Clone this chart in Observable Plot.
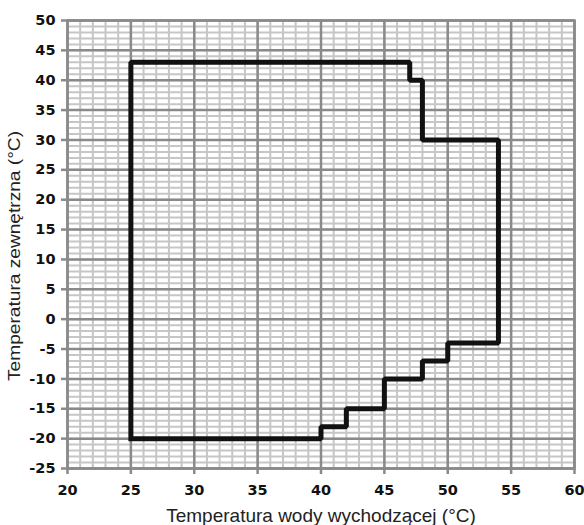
<!DOCTYPE html>
<html><head><meta charset="utf-8">
<script src="https://cdn.jsdelivr.net/npm/d3@7"></script>
<script src="https://cdn.jsdelivr.net/npm/@observablehq/plot@0.6"></script>
<style>
body{margin:0;background:#fff;}
#chart{position:relative;width:584px;height:525px;}
</style>
</head><body><div id="chart"></div>
<script>
const xTicks = [20,25,30,35,40,45,50,55,60];
const yTicks = [-25,-20,-15,-10,-5,0,5,10,15,20,25,30,35,40,45,50];
const xMinor = d3.range(20, 61, 1);
const yMinor = d3.range(-25, 51, 1);
const envX = [25,25,47,47,48,48,54,54,50,50,48,48,45,45,42,42,40,40,25];
const envY = [-20,43,43,40,40,30,30,-4,-4,-7,-7,-10,-10,-15,-15,-18,-18,-20,-20];
const env = envX.map((x,i)=>({x, y: envY[i]}));

const blank = () => "";
const tf = {fontSize: 14.5, fontWeight: 700, fill: "#111", fontFamily: "DejaVu Sans, sans-serif"};

const chart = Plot.plot({
  width: 584, height: 525,
  marginLeft: 67, marginRight: 10, marginTop: 20, marginBottom: 57,
  style: {fontFamily: "Liberation Sans, Arial, sans-serif", background: "#fff"},
  x: {domain: [20,60]},
  y: {domain: [-25,50]},
  marks: [
    Plot.ruleX(xMinor, {stroke: "#c6c6c6", strokeWidth: 2}),
    Plot.ruleY(yMinor, {stroke: "#c6c6c6", strokeWidth: 2}),
    Plot.ruleX(xTicks, {stroke: "#8a8a8a", strokeWidth: 2.5}),
    Plot.ruleY(yTicks, {stroke: "#8a8a8a", strokeWidth: 2.5}),
    Plot.frame({stroke: "#8a8a8a", strokeWidth: 2.5}),
    Plot.axisX({ticks: xTicks, tickSize: 6, stroke: "#8a8a8a", strokeWidth: 2.5, tickFormat: blank,
      label: "Temperatura wody wychodzącej (°C)", labelAnchor: "center", labelOffset: 53, labelArrow: "none"}),
    Plot.axisY({ticks: yTicks, tickSize: 6, stroke: "#8a8a8a", strokeWidth: 2.5, tickFormat: blank, label: null}),
    Plot.text(xTicks, {x: d => d, text: d => String(d), frameAnchor: "bottom", dy: 22, lineAnchor: "middle", ...tf}),
    Plot.text(yTicks, {y: d => d, text: d => String(d), frameAnchor: "left", dx: -12, textAnchor: "end", ...tf}),
    Plot.line(env, {x: "x", y: "y", stroke: "#111", strokeWidth: 5, strokeLinejoin: "miter", strokeLinecap: "square"})
  ]
});
document.getElementById("chart").appendChild(chart);
const svg = d3.select(chart);
svg.selectAll("g[aria-label='x-axis label'] text")
  .style("font-size", "19px").style("font-weight", "normal")
  .style("font-family", "'Liberation Sans', Arial, sans-serif").style("fill", "#222");
svg.append("text")
  .attr("transform", "translate(14,256) rotate(-90)")
  .attr("text-anchor", "middle")
  .attr("dominant-baseline", "central")
  .attr("font-size", 17)
  .attr("textLength", 250)
  .attr("lengthAdjust", "spacingAndGlyphs")
  .attr("font-family", "Liberation Sans, Arial, sans-serif")
  .attr("fill", "#222")
  .text("Temperatura zewnętrzna (°C)");
</script></body></html>
